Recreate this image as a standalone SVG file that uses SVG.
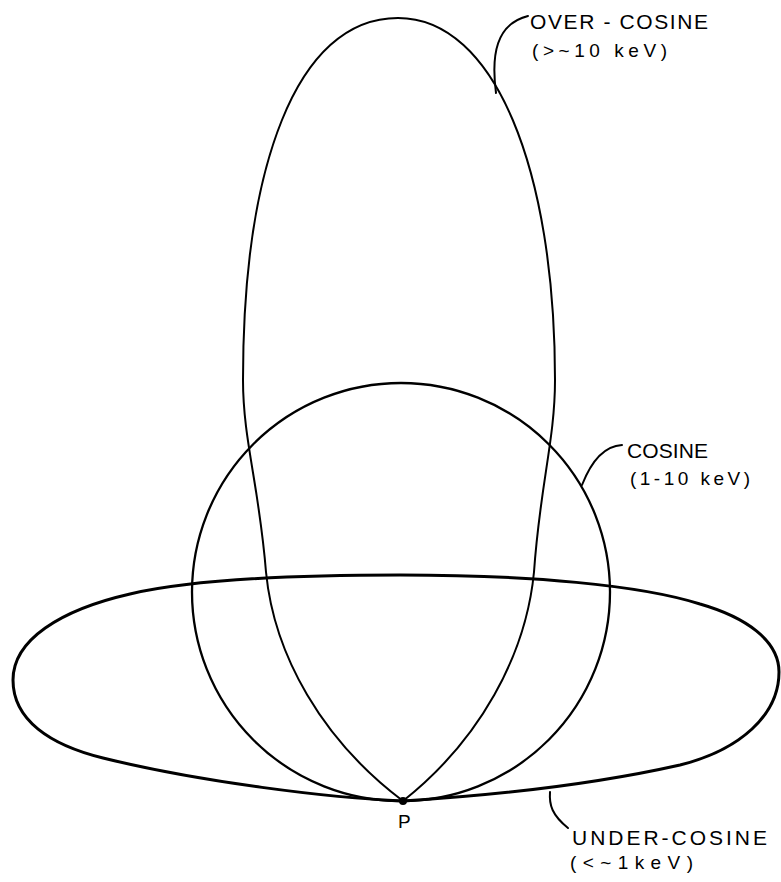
<svg xmlns="http://www.w3.org/2000/svg" width="781" height="882" viewBox="0 0 781 882">
<style>
.curve{fill:none;stroke:#000;stroke-linejoin:round;stroke-linecap:round}
.lead{fill:none;stroke:#000;stroke-width:2;stroke-linecap:round}
.lbl{font-family:"Liberation Sans","DejaVu Sans",sans-serif;fill:#000}
</style>
<rect width="781" height="882" fill="#fff"/>
<g id="under-cosine">
<path class="curve" stroke-width="3" d="M 403 801 C 500 795, 600 783, 680 765 C 740 750, 779 715, 779 672 C 779 640, 745 617, 700 604 C 640 585, 530 575, 400 575 C 280 575, 190 580, 130 594 C 60 610, 13 640, 13 680 C 13 720, 50 745, 103 758 C 200 782, 330 798, 403 801 Z"/>
</g>
<g id="cosine">
<circle class="curve" stroke-width="2.3" cx="401" cy="592" r="209"/>
</g>
<g id="over-cosine">
<path class="curve" stroke-width="2" d="M 403 801 C 322 740, 274 655, 266 572 C 259 485, 243 440, 243 380 C 243 170, 295 18, 398 18 C 495 18, 555 170, 555 380 C 555 440, 540 485, 534 572 C 526 655, 480 740, 403 801 Z"/>
</g>
<g id="point-p">
<circle cx="403" cy="801" r="4" fill="#000"/>
<text class="lbl" x="398" y="828" font-size="19">P</text>
</g>
<g id="connectors">
<path class="lead" d="M 496 93 C 491 55, 496 24, 528 16"/>
<path class="lead" d="M 582 485 C 591 462, 604 446, 622 445"/>
<path class="lead" d="M 550 792 C 549 805, 552 815, 568 828"/>
</g>
<g id="label-over">
<text class="lbl" x="530" y="29" font-size="21" textLength="178" lengthAdjust="spacing">OVER - COSINE</text>
<text class="lbl" x="532" y="57" font-size="19" textLength="135" lengthAdjust="spacing">(&gt;~10 keV)</text>
</g>
<g id="label-cosine">
<text class="lbl" x="627" y="458" font-size="21" textLength="81" lengthAdjust="spacing">COSINE</text>
<text class="lbl" x="630" y="485" font-size="19" textLength="120" lengthAdjust="spacing">(1-10 keV)</text>
</g>
<g id="label-under">
<text class="lbl" x="572" y="845" font-size="21" textLength="195" lengthAdjust="spacing">UNDER-COSINE</text>
<text class="lbl" x="570" y="869" font-size="19" textLength="123" lengthAdjust="spacing">(&lt;~1keV)</text>
</g>
</svg>
